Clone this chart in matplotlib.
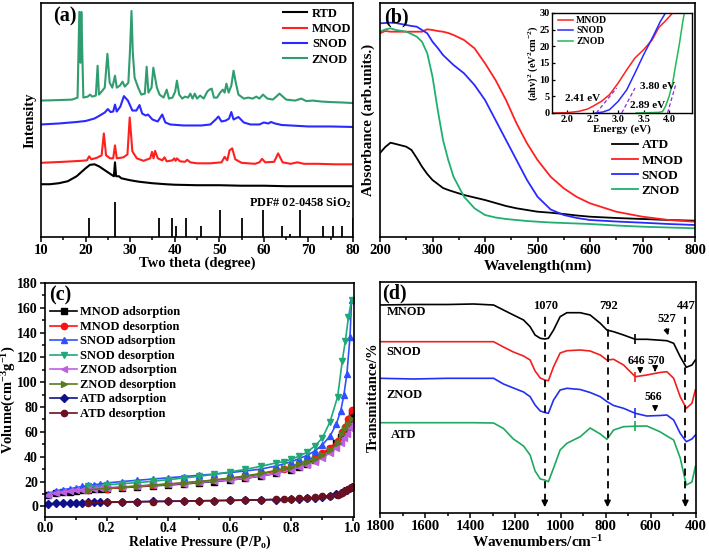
import matplotlib
matplotlib.use('Agg')
import matplotlib.pyplot as plt
from matplotlib.ticker import MultipleLocator

plt.rcParams['font.family'] = ['Liberation Serif', 'DejaVu Serif']
plt.rcParams['font.weight'] = 'bold'
plt.rcParams['axes.labelweight'] = 'bold'
plt.rcParams['mathtext.fontset'] = 'custom'
plt.rcParams['mathtext.rm'] = 'Liberation Serif:bold'
plt.rcParams['mathtext.it'] = 'Liberation Serif:bold:italic'
plt.rcParams['mathtext.bf'] = 'Liberation Serif:bold'
plt.rcParams['mathtext.default'] = 'rm'
plt.rcParams['axes.linewidth'] = 1.2

# ---------------- (a) XRD, intensity in arbitrary units ----------------
rtd_xrd = [(10, 53), (12, 53), (14, 54), (16, 56), (18, 61), (19, 65), (20, 69), (21, 72.5),
           (22, 73), (23, 71), (24, 68), (25, 65), (26, 62), (26.35, 61), (26.6, 75), (26.85, 61),
           (27.5, 61), (28, 59), (29, 58), (30, 57), (32, 55.5), (35, 54), (38, 53), (40, 52.5),
           (45, 52), (50, 52), (55, 51.5), (60, 51.5), (65, 51), (70, 51), (75, 51), (80, 51)]
mnod_xrd = [(10, 74.5), (15, 75.5), (19, 76.5), (20.3, 77), (20.8, 81), (21.3, 78), (22.5, 79.5),
            (23.6, 82), (24.1, 104), (24.6, 82), (25.5, 79), (26.2, 79), (26.6, 92), (27.0, 79),
            (28.5, 80), (29.4, 83), (29.9, 120), (30.5, 86), (31.5, 79), (33, 76.5), (34.5, 79),
            (34.9, 85.5), (35.25, 79), (35.6, 86.5), (36.2, 79), (37.2, 77), (37.7, 80), (38.2, 76),
            (39.5, 77), (39.9, 79), (40.2, 76.5), (40.5, 79), (41.2, 76), (42.3, 75.5), (42.8, 77.5),
            (43.5, 75), (45, 74), (48, 74), (50.5, 75), (51.2, 80.5), (51.8, 77), (52.3, 87),
            (52.9, 89), (53.6, 78), (55, 74.5), (58, 73.5), (59.0, 75), (59.6, 78.5), (60.3, 75),
            (62.3, 75.5), (63.2, 84), (64.2, 75), (66, 73.5), (67.5, 75), (69, 73.5), (72, 73.5),
            (76, 73), (80, 73)]
snod_xrd = [(10, 113), (14, 114), (18, 115.5), (20, 116.5), (22, 119), (23, 121.5), (24.3, 125),
            (25, 128.5), (25.6, 125.5), (26.2, 126), (26.6, 133), (27, 126), (27.8, 131),
            (28.6, 141.5), (29.5, 137), (30.5, 127), (31.4, 127), (32.1, 132.5), (32.7, 124),
            (33.5, 122), (34.0, 123), (35.0, 118), (36.2, 116), (37.2, 123), (37.9, 115), (39, 113),
            (42, 112), (46, 112), (48, 113), (49.2, 118), (49.8, 121), (50.5, 116), (51.5, 117),
            (52.2, 119), (52.7, 125.5), (53.2, 118), (54.3, 120.5), (55.5, 115), (57, 113), (59, 113),
            (60, 115), (61, 114), (61.6, 115.5), (62.5, 114), (64, 112.5), (66, 112), (70, 111),
            (75, 111), (80, 110.5)]
znod_xrd = [(10, 137), (14, 137.5), (17, 138), (18.2, 140), (18.6, 226), (18.85, 175), (19.05, 226),
            (19.5, 140), (20.5, 141), (21, 143), (21.5, 141), (22.3, 142), (22.7, 172), (23.0, 143),
            (23.6, 146), (24.3, 150), (24.9, 184), (25.4, 155), (26.0, 150), (26.6, 162), (27.0, 150),
            (27.7, 152), (28.3, 156), (28.8, 151), (29.6, 155), (30.0, 190), (30.3, 227), (30.6, 185),
            (31.0, 160), (31.8, 150), (32.5, 143), (33.3, 144), (33.7, 171), (34.1, 145), (34.8, 150),
            (35.2, 170), (35.6, 160), (36.0, 150), (36.6, 143), (37.5, 140), (38.2, 148), (38.7, 139),
            (39.5, 140), (40.1, 146), (40.5, 157), (41.0, 143), (41.7, 139), (42.3, 141), (43.0, 140),
            (43.5, 144), (44.0, 139), (44.5, 144), (45.0, 139), (45.7, 142), (46.5, 139), (47.3, 146),
            (47.8, 148), (48.3, 149), (48.8, 140), (49.5, 140), (50.2, 145), (50.8, 148), (51.2, 145),
            (51.6, 154), (52.1, 145), (52.7, 152), (53.2, 167), (53.7, 155), (54.3, 143), (55.5, 139),
            (56.5, 140), (57.5, 139), (58.3, 141), (59.0, 139), (59.8, 143), (60.8, 139), (62, 138),
            (62.8, 141), (63.5, 144), (64, 142), (65, 138), (67, 137), (68.4, 139), (69.5, 136.5),
            (71, 137), (73, 136), (75, 135.5), (78, 135), (80, 134.5)]
pdf_pos = [20.7, 26.6, 36.5, 39.5, 40.3, 42.5, 45.8, 50.1, 55.0, 59.9, 64.0, 65.8, 68.2, 73.3, 75.6, 77.6, 79.9]
pdf_height = [18.7, 34.7, 18.7, 18.7, 11, 18.7, 11, 27, 18.7, 27, 11, 3, 27, 11, 11, 11, 18.7]

# ---------------- (b) UV-vis ----------------
wl = [200, 210, 220, 230, 250, 260, 270, 280, 290, 300, 310, 320, 330, 340, 360, 380, 400, 420,
      440, 460, 480, 500, 525, 550, 575, 600, 650, 700, 750, 800]
abs_atd = [84, 90, 94.3, 93, 90.3, 87, 79, 70.3, 63, 57, 53, 49, 47, 45.3, 42, 39.5, 37, 34,
           31, 28.7, 27, 25.3, 24.3, 23, 21.5, 20.3, 19, 18, 17, 16.3]
abs_mnod = [203.7, 206, 205.3, 205.3, 205.3, 205.3, 205.3, 205.3, 207.7, 207, 206, 205.3, 204, 202,
            197, 188.7, 173.7, 157, 137, 113.7, 93.7, 77, 60.3, 48.7, 40, 33.7, 25.3, 20.3, 17, 15.3]
abs_snod = [213.7, 214, 214.3, 214, 212, 211, 210.3, 207, 203.7, 195.3, 189, 182, 177, 172,
            163.7, 152, 137, 117, 97, 77, 57, 40.3, 27.5, 22, 19, 17, 15.5, 14.3, 13, 12]
abs_znod = [205.3, 207.5, 208.7, 207, 205.3, 203, 200.3, 195.3, 183.7, 160.3, 127, 97, 77, 60.3,
            40.3, 28.7, 22, 19.5, 18, 17, 16, 15.3, 14.5, 14, 13.5, 13, 11.5, 10.3, 9.5, 8.7]

# inset: Tauc plot
e_mnod = [1.73, 2.0, 2.23, 2.4, 2.5, 2.67, 2.83, 3.0, 3.17, 3.33, 3.5, 3.67, 3.8, 3.92, 4.07]
t_mnod = [0, 0.1, 0.5, 1.2, 2.0, 3.5, 5.5, 9.0, 13.0, 16.5, 19.0, 22.0, 25.7, 27.5, 30.0]
e_snod = [2.55, 2.7, 2.83, 3.0, 3.17, 3.33, 3.5, 3.67, 3.83, 3.93]
t_snod = [0, 0.3, 1.0, 3.5, 7.0, 12.0, 17.5, 22.5, 27.5, 30.0]
e_znod = [3.35, 3.6, 3.8, 3.87, 3.93, 4.0, 4.07, 4.13, 4.2, 4.27, 4.3]
t_znod = [0, 0.1, 0.2, 0.4, 2.0, 5.0, 9.0, 14.5, 20.5, 27.5, 30.0]
gap_labels = ['2.41 eV', '2.89 eV', '3.80 eV']

# ---------------- (c) N2 isotherms ----------------
p_ads = [0.01, 0.035, 0.06, 0.08, 0.1, 0.12, 0.14, 0.16, 0.18, 0.2, 0.25, 0.3, 0.35, 0.4, 0.45,
         0.5, 0.55, 0.6, 0.65, 0.7, 0.75, 0.8, 0.825, 0.85, 0.875, 0.9, 0.925, 0.945, 0.96, 0.97,
         0.98, 0.99, 0.995]
p_des = [0.995, 0.985, 0.975, 0.965, 0.95, 0.925, 0.9, 0.875, 0.85, 0.825, 0.8, 0.775, 0.75, 0.7,
         0.65, 0.6, 0.55, 0.5, 0.45, 0.4, 0.35, 0.3, 0.25, 0.2, 0.14]
v_mnod_ads = [9.0, 10.5, 11.2, 11.8, 12.3, 12.8, 13.2, 13.6, 14.0, 14.3, 15.0, 15.8, 16.5, 17.2,
              18.0, 19.0, 20.0, 21.2, 22.5, 24.5, 26.5, 29.5, 31.5, 34.0, 37.0, 41.0, 46.0, 51.0,
              56.0, 60.0, 64.0, 70.0, 75.0]
v_mnod_des = [78, 70, 64, 60, 53, 47, 43, 39.5, 36.5, 34, 32, 30, 28.5, 26, 24, 22.5, 21, 19.8,
              18.8, 17.8, 17, 16, 15.2, 14.2, 13.0]
v_snod_ads = [10.2, 12.4, 13.5, 14.2, 15.0, 16.0, 16.8, 17.5, 18.0, 18.8, 20.0, 21.0, 22.0, 23.0,
              24.0, 25.0, 26.0, 27.2, 28.5, 30.0, 32.5, 36.0, 38.5, 41.0, 44.5, 49.5, 56.5, 66.0,
              77.0, 89.5, 107.0, 136.5, 166.0]
v_snod_des = [166, 152.5, 133.5, 117.5, 88.5, 68, 55, 48.5, 43.5, 40.5, 38, 36, 35, 32.2, 29.8,
              27.7, 25.8, 24.2, 22.8, 21.5, 20.2, 19.1, 18.3, 17.2, 16.0]
v_znod_ads = [9.4, 11.0, 11.8, 12.4, 13.0, 13.4, 13.8, 14.2, 14.6, 15.0, 15.6, 16.3, 17.0, 17.7,
              18.4, 19.3, 20.2, 21.3, 22.6, 24.5, 26.5, 29.5, 31.5, 33.5, 36.0, 39.0, 43.0, 47.0,
              51.0, 55.0, 58.5, 63.0, 66.0]
v_znod_des = [70, 66, 62.5, 58.5, 51, 45, 41.5, 38.5, 36, 34, 32, 30.5, 29, 26.5, 24.5, 22.8, 21.3,
              20.0, 19.0, 18.0, 17.2, 16.3, 15.5, 14.5, 13.3]
v_atd_ads = [2.0, 2.3, 2.5, 2.7, 2.8, 3.0, 3.1, 3.2, 3.3, 3.4, 3.6, 3.8, 4.0, 4.1, 4.3, 4.5, 4.6,
             4.8, 5.0, 5.2, 5.4, 5.8, 6.1, 6.5, 7.0, 7.7, 8.7, 10.0, 11.0, 12.0, 13.0, 14.5, 15.5]
v_atd_des = [15.5, 14, 12.5, 11, 9.5, 8.5, 8.0, 7.3, 6.8, 6.4, 6.1, 5.8, 5.6, 5.3, 5.0, 4.8, 4.6,
             4.4, 4.2, 4.0, 3.8, 3.6, 3.4, 3.2, 2.8]

# ---------------- (d) FTIR, transmittance in arbitrary units ----------------
wn = [1800, 1650, 1500, 1386, 1297, 1253, 1209, 1164, 1135, 1113, 1090, 1070, 1054, 1031, 1002,
      972, 913, 869, 824, 795, 765, 721, 669, 618, 560, 529, 499, 470, 443, 418, 403]
tr_mnod = [208, 208.5, 208.5, 209, 208, 203, 198, 193, 186.3, 178, 174.7, 174, 174.7, 183, 196.3,
           200.3, 200.3, 198, 189.7, 183, 181.3, 178, 173.7, 173.7, 172.8, 172.3, 169.7, 156.3,
           145.7, 148, 153]
tr_snod = [171.3, 171.3, 171.3, 171.3, 171.3, 166, 161, 157, 153, 142, 135, 133, 132.3, 146.3, 160,
           162.3, 163, 162, 158, 153, 153.7, 148, 136.3, 138, 140.5, 141.3, 134.7, 116.3, 104.7,
           109.7, 123]
tr_znod = [134.7, 134, 134.7, 134.7, 134.7, 129, 125, 121, 116.3, 108, 102, 100.5, 99.7, 113, 123,
           124.7, 123.5, 120.5, 116.3, 111.5, 107.5, 104.7, 99.7, 97, 97.5, 98, 93, 79.7, 71.3,
           74, 78]
tr_atd = [90.3, 90.3, 90.3, 90.3, 90, 84.5, 74, 67, 58, 42, 34, 33, 31.3, 45, 63, 69.7, 76.3,
          85, 79, 73.7, 83, 86.3, 86.8, 87, 81.3, 77, 73, 55, 28, 31, 46.3]
peak_wn = [1070, 792, 447]

W, H = 709, 552
fig = plt.figure(figsize=(W / 100, H / 100), dpi=100)


def px_axes(l, t, r, b):
    return fig.add_axes([l / W, 1 - b / H, (r - l) / W, (b - t) / H])


def style_ticks(ax, size=10.5):
    ax.tick_params(which='both', direction='out', labelsize=size, width=1.1, pad=1.5)
    ax.tick_params(which='major', length=3.5)
    ax.tick_params(which='minor', length=2.2)


LBL = 10.5
LEG = 9
NUM = 9
col_red = '#ff2020'
col_blue = '#2a2aff'

# ---------- (a) ----------
ax = px_axes(41, 3, 353, 237)
for data, c, name in [(rtd_xrd, 'black', 'RTD'), (mnod_xrd, col_red, 'MNOD'),
                      (snod_xrd, col_blue, 'SNOD'), (znod_xrd, '#2f9d6f', 'ZNOD')]:
    ax.plot([p[0] for p in data], [p[1] for p in data], color=c, lw=1.5, label=name)
ax.vlines(pdf_pos, 0, pdf_height, color='black', lw=1.3)
ax.text(79.6, 35, 'PDF# 02-0458 SiO$_2$', ha='right', va='center', fontsize=8.8)
ax.text(12.8, 221, '(a)', fontsize=14.5, ha='left', va='center')
ax.set_xlim(10, 80)
ax.set_ylim(0, 235)
ax.set_yticks([])
ax.xaxis.set_major_locator(MultipleLocator(10))
ax.xaxis.set_minor_locator(MultipleLocator(5))
style_ticks(ax)
ax.set_xlabel('Two theta (degree)', fontsize=LBL, va='center')
ax.xaxis.set_label_coords(0.5, -0.112)
ax.set_ylabel('Intensity', fontsize=LBL, va='center')
ax.yaxis.set_label_coords(-0.035, 0.5)
ax.legend(loc='upper left', bbox_to_anchor=(0.776, 0.98), frameon=False, fontsize=LEG,
          handlelength=1.9, handletextpad=0.4, labelspacing=0.27, borderpad=0, borderaxespad=0)

# ---------- (b) ----------
ax = px_axes(380, 3, 695, 237)
ax.plot(wl, abs_atd, color='black', lw=1.3, label='ATD')
ax.plot(wl, abs_mnod, color=col_red, lw=1.3, label='MNOD')
ax.plot(wl, abs_snod, color=col_blue, lw=1.3, label='SNOD')
ax.plot(wl, abs_znod, color='#1fb070', lw=1.3, label='ZNOD')
ax.text(207, 220, '(b)', fontsize=14.5, ha='left', va='center')
ax.set_xlim(200, 800)
ax.set_ylim(0, 234)
ax.set_yticks([])
ax.xaxis.set_major_locator(MultipleLocator(100))
ax.xaxis.set_minor_locator(MultipleLocator(50))
style_ticks(ax)
ax.set_xlabel('Wavelength(nm)', fontsize=LBL + 0.5, va='center')
ax.xaxis.set_label_coords(0.5, -0.127)
ax.set_ylabel('Absorbance (arb.units.)', fontsize=LBL + 0.3, va='center')
ax.yaxis.set_label_coords(-0.038, 0.5)
ax.legend(loc='upper left', bbox_to_anchor=(0.736, 0.418), frameon=False, fontsize=LEG + 0.5,
          handlelength=2.0, handletextpad=0.25, labelspacing=0.22, borderpad=0, borderaxespad=0)

ins = px_axes(552, 13, 692, 113)
ins.plot(e_mnod, t_mnod, color=col_red, lw=1.1, label='MNOD')
ins.plot(e_snod, t_snod, color=col_blue, lw=1.1, label='SNOD')
ins.plot(e_znod, t_znod, color='#22bb55', lw=1.1, label='ZNOD')
for xs, ys in [([2.57, 2.97], [0, 7.5]), ([3.07, 3.33], [0, 7.5]), ([3.97, 4.13], [0, 8.5])]:
    ins.plot(xs, ys, color='#8a2be2', lw=0.9, ls=(0, (3, 2)))
ins.text(2.3, 4.4, gap_labels[0], fontsize=8, ha='center', va='center')
ins.text(3.57, 2.1, gap_labels[1], fontsize=8, ha='center', va='center')
ins.text(3.78, 8.0, gap_labels[2], fontsize=8, ha='center', va='center')
ins.set_xlim(1.7, 4.45)
ins.set_ylim(0, 30)
ins.set_xticks([2.0, 2.5, 3.0, 3.5, 4.0])
ins.set_xticklabels(['2.0', '2.5', '3.0', '3.5', '4.0'])
ins.set_yticks([0, 5, 10, 15, 20, 25, 30])
ins.tick_params(direction='in', labelsize=7.5, length=2.5, pad=1.5, width=0.9)
for s in ins.spines.values():
    s.set_linewidth(1.0)
ins.set_xlabel('Energy (eV)', fontsize=8, labelpad=0)
ins.set_ylabel('(ahv)$^{2}$ (eV$^{2}$cm$^{-2}$)', fontsize=7.5, labelpad=0)
ins.legend(loc='upper left', bbox_to_anchor=(0.04, 0.97), frameon=False, fontsize=7,
           handlelength=1.6, handletextpad=0.3, labelspacing=0.15, borderpad=0, borderaxespad=0)

# ---------- (c) ----------
ax = px_axes(45, 283, 354, 517)
series_c = [(p_ads, v_mnod_ads, 'black', 's', 'MNOD adsorption'),
            (p_des, v_mnod_des, '#ff1010', 'o', 'MNOD desorption'),
            (p_ads, v_snod_ads, '#3050ff', '^', 'SNOD adsorption'),
            (p_des, v_snod_des, '#20a878', 'v', 'SNOD desorption'),
            (p_ads, v_znod_ads, '#c060e0', '<', 'ZNOD adsorption'),
            (p_des, v_znod_des, '#5a7a20', '>', 'ZNOD desorption'),
            (p_ads, v_atd_ads, '#10108a', 'D', 'ATD adsorption'),
            (p_des, v_atd_des, '#6a1020', 'o', 'ATD desorption')]
for xs, ys, c, m, name in series_c:
    ax.plot(xs, ys, color=c, marker=m, ms=4.5 if m != 'D' else 3.8, lw=1.2, label=name)
ax.text(0.012, 170, '(c)', fontsize=14.5, ha='left', va='center')
ax.set_xlim(0, 1.003)
ax.set_ylim(-8.6, 180)
ax.xaxis.set_major_locator(MultipleLocator(0.2))
ax.xaxis.set_minor_locator(MultipleLocator(0.1))
ax.yaxis.set_major_locator(MultipleLocator(20))
ax.yaxis.set_minor_locator(MultipleLocator(10))
ax.xaxis.set_major_formatter(plt.FormatStrFormatter('%.1f'))
style_ticks(ax, size=10)
ax.tick_params(axis='x', which='major', pad=0.5, length=3)
ax.tick_params(axis='x', which='minor', length=2)
ax.set_xlabel('Relative Pressure (P/P$_o$)', fontsize=10, va='bottom')
ax.xaxis.set_label_coords(0.5, -0.147)
ax.set_ylabel('Volume(cm$^{-3}$g$^{-1}$)', fontsize=LBL, va='center')
ax.yaxis.set_label_coords(-0.118, 0.5)
ax.legend(loc='upper left', bbox_to_anchor=(0.016, 0.9), frameon=False, fontsize=LEG,
          handlelength=2.2, handletextpad=0.2, labelspacing=0.2, borderpad=0, borderaxespad=0)

# ---------- (d) ----------
ax = px_axes(380, 282, 696, 513)
ax.plot(wn, tr_mnod, color='black', lw=1.2)
ax.plot(wn, tr_snod, color='#f02020', lw=1.2)
ax.plot(wn, tr_znod, color='#2030f0', lw=1.2)
ax.plot(wn, tr_atd, color='#20a860', lw=1.2)
for yv, c in [(173.7, 'black'), (136.3, '#f02020'), (99.7, '#2030f0'), (86.8, '#20a860')]:
    ax.plot([669], [yv], marker='|', ms=7, mew=1.2, color=c)
for x in peak_wn:
    ax.vlines(x, 12, 197, colors='black', linestyles=(0, (4, 3)), lw=1.3)
    ax.annotate('', xy=(x, 3), xytext=(x, 13),
                arrowprops=dict(arrowstyle='-|>', color='black', lw=1.2, mutation_scale=9))
for x, t in zip(peak_wn, ['1070', '792', '447']):
    ax.text(x - 5, 207, t, fontsize=NUM, ha='center', va='center')
ax.text(529, 193.5, '527', fontsize=NUM, ha='center', va='center')
ax.annotate('', xy=(520, 175), xytext=(535, 187),
            arrowprops=dict(arrowstyle='-|>', color='black', lw=1.0, mutation_scale=8))
ax.text(662, 151.5, '646', fontsize=NUM - 0.5, ha='center', va='center')
ax.text(577, 151.5, '570', fontsize=NUM - 0.5, ha='center', va='center')
ax.text(588, 116, '566', fontsize=NUM - 0.5, ha='center', va='center')
for x, y0, y1 in [(647, 145.5, 136.5), (581, 145.5, 138.5), (581, 109.5, 98.5)]:
    ax.annotate('', xy=(x, y1), xytext=(x, y0),
                arrowprops=dict(arrowstyle='-|>', color='black', lw=1.0, mutation_scale=8))
for name, xx, yy in [('MNOD', 1770, 201.3), ('SNOD', 1770, 161.3), ('ZNOD', 1770, 118),
                     ('ATD', 1750, 78)]:
    ax.text(xx, yy, name, fontsize=NUM, ha='left', va='center')
ax.text(1790, 220, '(d)', fontsize=14.5, ha='left', va='center')
ax.set_xlim(1800, 400)
ax.set_ylim(0, 231)
ax.set_yticks([])
ax.xaxis.set_major_locator(MultipleLocator(200))
ax.xaxis.set_minor_locator(MultipleLocator(100))
style_ticks(ax)
ax.set_xlabel('Wavenumbers/cm$^{-1}$', fontsize=LBL + 0.5, va='center')
ax.xaxis.set_label_coords(0.5, -0.124)
ax.set_ylabel('Transmittance/%', fontsize=LBL, va='center')
ax.yaxis.set_label_coords(-0.022, 0.5)

fig.savefig('out.png', dpi=100)
